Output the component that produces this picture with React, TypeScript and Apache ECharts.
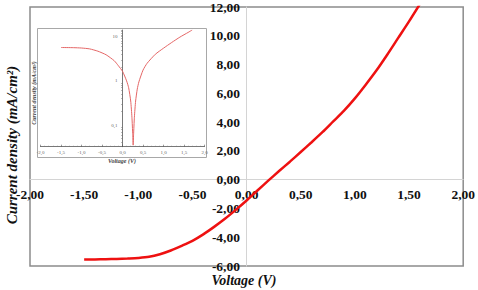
import React, { useEffect, useRef } from "react";
import * as echarts from "echarts";

// Main J–V curve
const voltage = [-1.5, -1.4, -1.3, -1.2, -1.1, -1.0, -0.9, -0.8, -0.7, -0.6, -0.5, -0.4, -0.3, -0.2, -0.1, 0.0, 0.1, 0.2, 0.3, 0.4, 0.5, 0.6, 0.7, 0.8, 0.9, 1.0, 1.1, 1.2, 1.3, 1.4, 1.5, 1.6];
const currentDensity = [-5.55, -5.54, -5.53, -5.51, -5.48, -5.44, -5.36, -5.18, -4.92, -4.6, -4.25, -3.8, -3.28, -2.72, -2.1, -1.45, -0.75, -0.07, 0.6, 1.25, 1.92, 2.6, 3.3, 4.05, 4.8, 5.65, 6.6, 7.6, 8.7, 9.85, 11.0, 12.2];

// Inset: |J| on log scale
const insetVoltage = [-1.5, -1.2, -1.0, -0.8, -0.6, -0.4, -0.2, -0.1, 0.0, 0.1, 0.15, 0.2, 0.23, 0.25, 0.26, 0.27, 0.29, 0.32, 0.36, 0.4, 0.5, 0.6, 0.8, 1.0, 1.2, 1.4, 1.6, 1.7];
const insetCurrent = [5.7, 5.65, 5.55, 5.3, 4.7, 3.9, 2.85, 2.2, 1.65, 1.0, 0.7, 0.35, 0.15, 0.06, 0.035, 0.06, 0.15, 0.35, 0.65, 0.95, 1.75, 2.5, 4.0, 5.5, 7.4, 9.8, 12.5, 14.2];

const xTicks = { min: -2, max: 2, interval: 0.5 };
const yTicks = { min: -6, max: 12, interval: 2 };
const insetLogTicks = [0.1, 1, 10];
const insetMinorTicks = [0.04, 0.05, 0.06, 0.07, 0.08, 0.09, 0.2, 0.3, 0.4, 0.5, 0.6, 0.7, 0.8, 0.9, 2, 3, 4, 5, 6, 7, 8, 9, 10, 11, 12, 13, 14];

const SERIF = "Liberation Serif, Times New Roman, serif";

export default function App() {
  const ref = useRef<HTMLDivElement>(null);
  useEffect(() => {
    if (!ref.current) return;
    const chart = echarts.init(ref.current, null, { renderer: "svg" });
    const comma = (d: number) => (v: number) => v.toFixed(d).replace(".", ",");
    const mainLabel = { fontFamily: SERIF, fontWeight: "bold", fontSize: 13.5, color: "#111" };
    const option: any = {
      animation: false,
      backgroundColor: "#ffffff",
      textStyle: { fontFamily: SERIF },
      grid: [
        { left: 30, right: 11, top: 7, bottom: 24, show: true, borderColor: "#8c8c8c", borderWidth: 1.5, backgroundColor: "transparent" },
        { left: 40.5, right: 273.5, top: 30, bottom: 143.3, show: false },
      ],
      xAxis: [
        {
          type: "value", gridIndex: 0, ...xTicks,
          axisLine: { onZero: true, lineStyle: { color: "#d4d4d4", width: 1 } },
          axisTick: { show: false },
          splitLine: { show: false },
          axisLabel: { ...mainLabel, formatter: comma(2), margin: -79 },
        },
        {
          type: "value", gridIndex: 1, ...xTicks,
          axisLine: { onZero: false, lineStyle: { color: "#555", width: 0.8 } },
          axisTick: { show: true, inside: true, length: 2, lineStyle: { color: "#555", width: 0.6 } },
          minorTick: { show: true, splitNumber: 5, length: 1, lineStyle: { color: "#777", width: 0.5 } },
          splitLine: { show: false },
          axisLabel: { formatter: comma(1), fontFamily: SERIF, fontSize: 5, color: "#666", margin: 3 },
        },
      ],
      yAxis: [
        {
          type: "value", gridIndex: 0, ...yTicks,
          axisLine: { onZero: true, lineStyle: { color: "#d4d4d4", width: 1 } },
          axisTick: { show: false },
          splitLine: { show: false },
          axisLabel: { ...mainLabel, formatter: comma(2), margin: -210 },
        },
        {
          type: "log", gridIndex: 1, logBase: 10, min: 0.0323, max: 14.2,
          axisLine: { onZero: true, lineStyle: { color: "#555", width: 0.8 } },
          axisTick: { show: true, length: 1.5, customValues: insetMinorTicks, lineStyle: { color: "#777", width: 0.5 } },
          splitLine: { show: false },
          axisLabel: {
            customValues: insetLogTicks,
            formatter: (v: number) => {
              const l = Math.log10(v);
              if (Math.abs(l - Math.round(l)) > 1e-6) return "";
              return String(Math.pow(10, Math.round(l))).replace(".", ",");
            },
            fontFamily: SERIF, fontSize: 5, color: "#666", margin: -77,
          },
        },
      ],
      graphic: [
        { type: "rect", z: -1, shape: { x: 37.5, y: 28.5, width: 169, height: 129 }, style: { fill: "#fff", stroke: "#a8a8a8", lineWidth: 1 } },
        { type: "text", x: 122, y: 160.5, style: { text: "Voltage (V)", font: `italic bold 6px ${SERIF}`, fill: "#444", align: "center", verticalAlign: "middle" } },
        { type: "text", x: 33.5, y: 93, rotation: Math.PI / 2, style: { text: "Current density (mA/cm²)", font: `italic bold 6px ${SERIF}`, fill: "#444", align: "center", verticalAlign: "middle" } },
        { type: "text", x: 244, y: 280, style: { text: "Voltage (V)", font: `italic bold 14px ${SERIF}`, fill: "#111", align: "center", verticalAlign: "middle" } },
        { type: "text", x: 12, y: 145, rotation: Math.PI / 2, style: { text: "Current density (mA/cm²)", font: `italic bold 15px ${SERIF}`, fill: "#111", align: "center", verticalAlign: "middle" } },
      ],
      series: [
        {
          type: "line", xAxisIndex: 0, yAxisIndex: 0,
          data: voltage.map((v, i) => [v, currentDensity[i]]),
          showSymbol: false, smooth: 0.3, clip: true,
          lineStyle: { color: "#ee1111", width: 2.5 },
        },
        {
          type: "line", xAxisIndex: 1, yAxisIndex: 1,
          data: insetVoltage.map((v, i) => [v, insetCurrent[i]]),
          showSymbol: false, smooth: 0.2, clip: true,
          lineStyle: { color: "#e46666", width: 1 },
        },
      ],
    };
    chart.setOption(option);
    return () => chart.dispose();
  }, []);
  return <div ref={ref} style={{ width: 478, height: 290, position: "absolute", left: 0, top: 0 }} />;
}
